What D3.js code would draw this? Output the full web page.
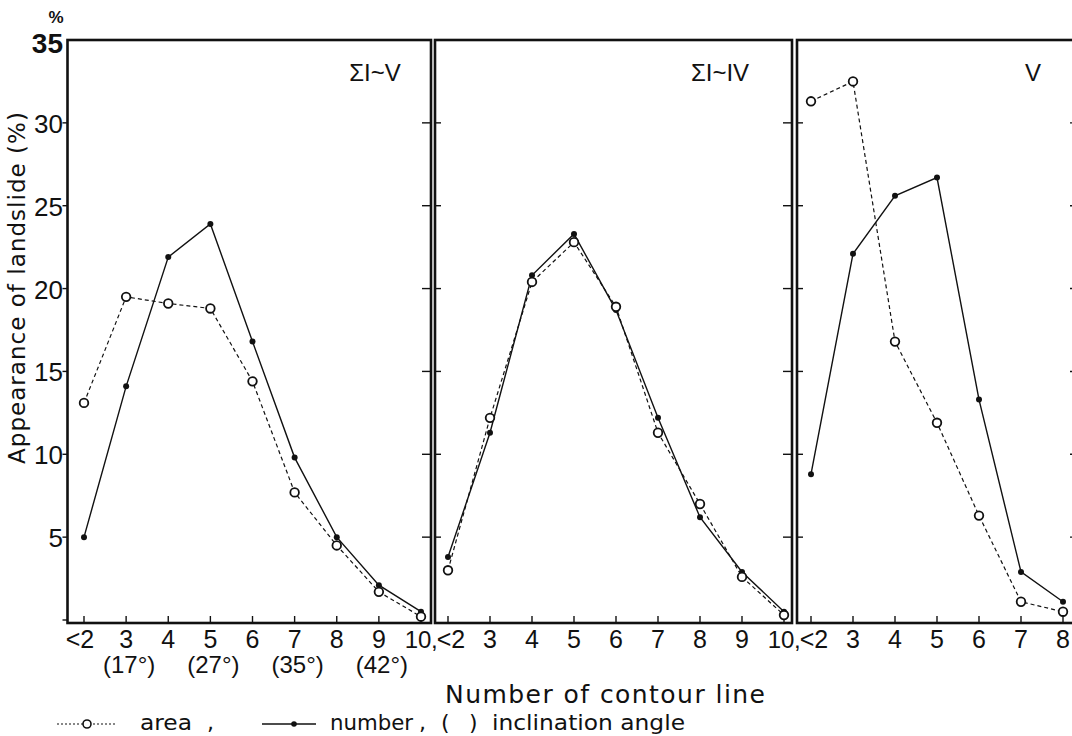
<!DOCTYPE html>
<html>
<head>
<meta charset="utf-8">
<script src="https://cdn.jsdelivr.net/npm/d3@7"></script>
<style>
  body { margin: 0; background: #fff; }
  svg { display: block; }
  text { font-family: "Liberation Sans", Arial, sans-serif; fill: #111; }
  text.word { font-family: "DejaVu Sans", "Liberation Sans", sans-serif; }
</style>
</head>
<body>
<svg id="chart" width="1072" height="736"></svg>
<script>
// Landslide appearance (%) by number of contour lines, three groups
const categoriesFull = ["<2", "3", "4", "5", "6", "7", "8", "9", "10"];
const categoriesV = ["<2", "3", "4", "5", "6", "7", "8"];
const tickLabelsFull = ["<2", "3", "4", "5", "6", "7", "8", "9", "10,"];
const tickLabelsV = ["<2", "3", "4", "5", "6", "7", "8"];
const angleLabels = ["", "(17°)", "", "(27°)", "", "(35°)", "", "(42°)", ""];

const areaAll = [13.1, 19.5, 19.1, 18.8, 14.4, 7.7, 4.5, 1.7, 0.2];
const numberAll = [5.0, 14.1, 21.9, 23.9, 16.8, 9.8, 5.0, 2.1, 0.5];
const areaIV = [3.0, 12.2, 20.4, 22.8, 18.9, 11.3, 7.0, 2.6, 0.3];
const numberIV = [3.8, 11.3, 20.8, 23.3, 18.7, 12.2, 6.2, 2.9, 0.5];
const areaV = [31.3, 32.5, 16.8, 11.9, 6.3, 1.1, 0.5];
const numberV = [8.8, 22.1, 25.6, 26.7, 13.3, 2.9, 1.1];

const yTicks = [5, 10, 15, 20, 25, 30, 35];
const panelTitles = ["ΣI~V", "ΣI~IV", "V"];

const svg = d3.select("#chart");
const frameTop = 40, frameBottom = 623;
const y = d3.scaleLinear().domain([0, 35]).range([620, 40]);

const panels = [
  { title: panelTitles[0], cats: categoriesFull, labels: tickLabelsFull, area: areaAll, number: numberAll,
    left: 67.5, right: 431, range: [84, 421], titleX: 375, leftOut: true, ltShift: -4 },
  { title: panelTitles[1], cats: categoriesFull, labels: tickLabelsFull, area: areaIV, number: numberIV,
    left: 435, right: 792, range: [448, 784], titleX: 720, leftOut: false, ltShift: 3 },
  { title: panelTitles[2], cats: categoriesV, labels: tickLabelsV, area: areaV, number: numberV,
    left: 797, right: 1079, range: [811, 1063], titleX: 1033, leftOut: false, ltShift: 3 }
];

panels.forEach((p, pi) => {
  const g = svg.append("g");
  const x = d3.scalePoint().domain(p.cats).range(p.range);

  // frame
  g.append("rect")
    .attr("x", p.left).attr("y", frameTop)
    .attr("width", p.right - p.left).attr("height", frameBottom - frameTop)
    .attr("fill", "none").attr("stroke", "#111").attr("stroke-width", 2.6);

  // y ticks on both sides of the frame
  const sideTicks = yTicks.filter(t => t < 35);
  g.selectAll(".tl").data(p.leftOut ? [0].concat(sideTicks) : sideTicks).join("line")
    .attr("x1", p.leftOut ? p.left - 5 : p.left)
    .attr("x2", p.leftOut ? p.left : p.left + 6)
    .attr("y1", d => y(d)).attr("y2", d => y(d))
    .attr("stroke", "#111").attr("stroke-width", 1.4);
  g.selectAll(".tr").data(sideTicks).join("line")
    .attr("x1", p.right - 9).attr("x2", p.right)
    .attr("y1", d => y(d)).attr("y2", d => y(d))
    .attr("stroke", "#111").attr("stroke-width", 1.4);

  // x ticks
  g.selectAll(".tx").data(p.cats).join("line")
    .attr("x1", d => x(d)).attr("x2", d => x(d))
    .attr("y1", frameBottom).attr("y2", frameBottom - 7)
    .attr("stroke", "#111").attr("stroke-width", 1.4);

  // x tick labels (a trailing comma is set apart from the number)
  p.cats.forEach((c, i) => {
    const lab = p.labels[i];
    const cx = x(c);
    if (lab.endsWith(",")) {
      g.append("text").attr("x", cx - 3).attr("y", 648)
        .attr("text-anchor", "middle").attr("font-size", 24)
        .text(lab.slice(0, -1));
      g.append("text").attr("x", cx + 10).attr("y", 648)
        .attr("font-size", 24).text(",");
    } else {
      g.append("text")
        .attr("x", lab.startsWith("<") ? cx + p.ltShift : cx)
        .attr("y", 648)
        .attr("text-anchor", "middle").attr("font-size", 25)
        .text(lab);
    }
  });

  // inclination angles under the first panel
  if (pi === 0) {
    g.selectAll(".ang").data(p.cats).join("text")
      .attr("x", d => x(d) + 3)
      .attr("y", 673)
      .attr("text-anchor", "middle")
      .attr("font-size", 24)
      .text((d, i) => angleLabels[i]);
  }

  // panel title
  g.append("text")
    .attr("x", p.titleX).attr("y", 81)
    .attr("text-anchor", "middle")
    .attr("font-size", 24)
    .text(p.title);

  const lineGen = d3.line().x((d, i) => x(p.cats[i])).y(d => y(d));

  // area: dashed with open circles
  g.append("path").datum(p.area)
    .attr("d", lineGen)
    .attr("fill", "none").attr("stroke", "#111")
    .attr("stroke-width", 1.2).attr("stroke-dasharray", "4,3");
  // number: solid with filled dots
  g.append("path").datum(p.number)
    .attr("d", lineGen)
    .attr("fill", "none").attr("stroke", "#111")
    .attr("stroke-width", 1.4);

  g.selectAll(".dn").data(p.number).join("circle")
    .attr("cx", (d, i) => x(p.cats[i])).attr("cy", d => y(d))
    .attr("r", 3).attr("fill", "#111");
  g.selectAll(".da").data(p.area).join("circle")
    .attr("cx", (d, i) => x(p.cats[i])).attr("cy", d => y(d))
    .attr("r", 4.3).attr("fill", "#fff").attr("stroke", "#111").attr("stroke-width", 1.8);
});

// y tick labels
svg.selectAll(".ly").data(yTicks).join("text")
  .attr("x", 63)
  .attr("y", d => d === 35 ? 53 : y(d) + 10)
  .attr("text-anchor", "end")
  .attr("font-size", d => d === 35 ? 28 : 26)
  .attr("font-weight", d => d === 35 ? "bold" : "normal")
  .text(d => d);
svg.append("text")
  .attr("x", 56).attr("y", 23)
  .attr("text-anchor", "middle")
  .attr("font-size", 17).attr("font-weight", "bold")
  .text("%");

// axis titles
svg.append("text").attr("class", "word")
  .attr("transform", "translate(25,288) rotate(-90)")
  .attr("text-anchor", "middle")
  .attr("font-size", 23)
  .attr("textLength", 352).attr("lengthAdjust", "spacing")
  .text("Appearance of landslide (%)");

svg.append("text").attr("class", "word")
  .attr("x", 445).attr("y", 703)
  .attr("font-size", 25)
  .attr("textLength", 320).attr("lengthAdjust", "spacing")
  .text("Number of contour line");

// legend
const ly = 724;
const lb = 730;
svg.append("line").attr("x1", 57).attr("x2", 117).attr("y1", ly).attr("y2", ly)
  .attr("stroke", "#111").attr("stroke-width", 1.1).attr("stroke-dasharray", "2,2");
svg.append("circle").attr("cx", 87).attr("cy", ly).attr("r", 4)
  .attr("fill", "#fff").attr("stroke", "#111").attr("stroke-width", 1.6);
svg.append("text").attr("class", "word").attr("x", 140).attr("y", lb).attr("font-size", 22)
  .attr("textLength", 52).attr("lengthAdjust", "spacingAndGlyphs").text("area");
svg.append("text").attr("class", "word").attr("x", 207).attr("y", lb).attr("font-size", 22).text(",");

svg.append("line").attr("x1", 262).attr("x2", 316).attr("y1", ly).attr("y2", ly)
  .attr("stroke", "#111").attr("stroke-width", 1.4);
svg.append("circle").attr("cx", 294).attr("cy", ly).attr("r", 2.8).attr("fill", "#111");
svg.append("text").attr("class", "word").attr("x", 330).attr("y", lb).attr("font-size", 22)
  .attr("textLength", 83).attr("lengthAdjust", "spacingAndGlyphs").text("number");
svg.append("text").attr("class", "word").attr("x", 419).attr("y", lb).attr("font-size", 22).text(",");
svg.append("text").attr("class", "word").attr("x", 441).attr("y", lb).attr("font-size", 22).text("(");
svg.append("text").attr("class", "word").attr("x", 469).attr("y", lb).attr("font-size", 22).text(")");
svg.append("text").attr("class", "word").attr("x", 492).attr("y", lb).attr("font-size", 22)
  .attr("textLength", 193).attr("lengthAdjust", "spacingAndGlyphs").text("inclination angle");
</script>
</body>
</html>
